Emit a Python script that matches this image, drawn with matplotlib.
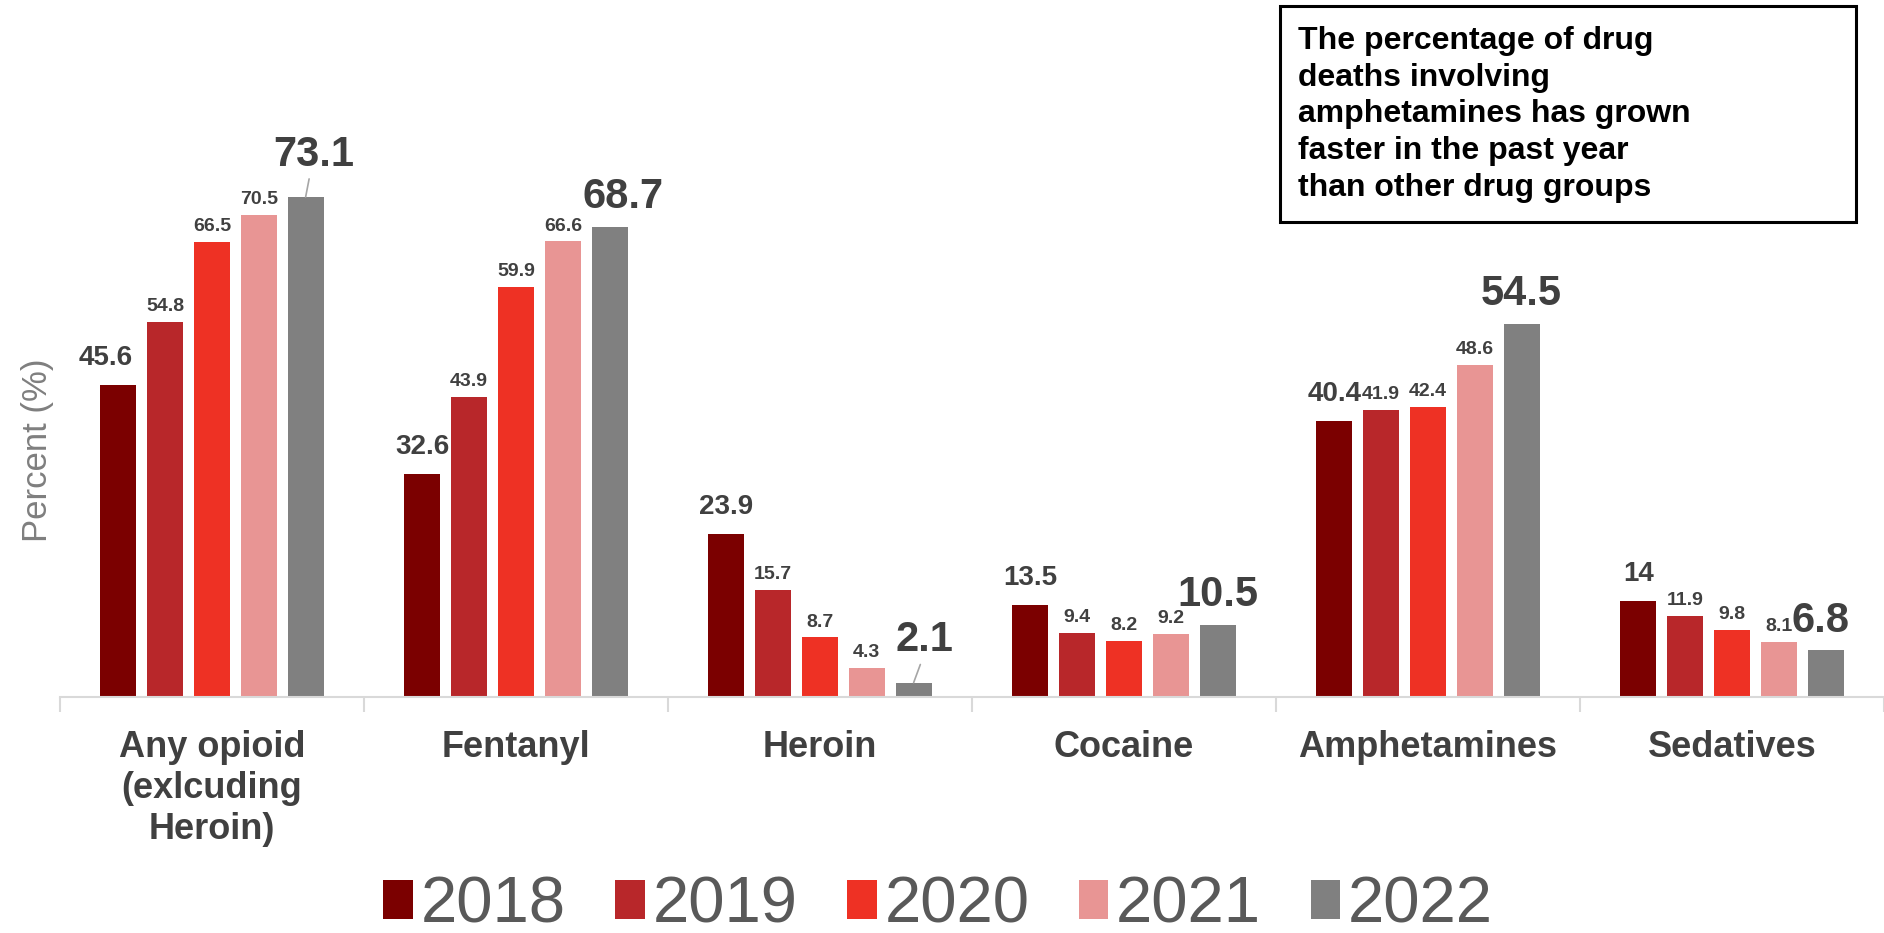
import numpy as np
import matplotlib
matplotlib.use("Agg")
import matplotlib.pyplot as plt
from matplotlib.patches import Rectangle

plt.rcParams['font.family'] = ['Liberation Sans', 'DejaVu Sans']

categories = ["Any opioid\n(exlcuding\nHeroin)", "Fentanyl", "Heroin", "Cocaine", "Amphetamines", "Sedatives"]
years = ["2018", "2019", "2020", "2021", "2022"]
v2018 = [45.6, 32.6, 23.9, 13.5, 40.4, 14]
v2019 = [54.8, 43.9, 15.7, 9.4, 41.9, 11.9]
v2020 = [66.5, 59.9, 8.7, 8.2, 42.4, 9.8]
v2021 = [70.5, 66.6, 4.3, 9.2, 48.6, 8.1]
v2022 = [73.1, 68.7, 2.1, 10.5, 54.5, 6.8]
series = [v2018, v2019, v2020, v2021, v2022]

colors = ["#7B0000", "#B8272A", "#EE3124", "#E89594", "#808080"]
label_color = "#404040"

fig = plt.figure(figsize=(18.84, 9.33), dpi=100)
ax = fig.add_axes([60 / 1884, 236 / 933, 1824 / 1884, 684 / 933])

x = np.arange(len(categories))
step = 0.154
width = 0.118

# label nudges in points (dx) and leader lines, keyed by (series, category)
nudge = {(0, 0): -9, (4, 0): 6, (4, 1): 10, (4, 2): 8, (4, 5): -4}
leader = {(4, 0), (4, 2)}

for i, vals in enumerate(series):
    pos = x + (i - 2) * step
    ax.bar(pos, vals, width, color=colors[i], label=years[i], zorder=2)
    for j, v in enumerate(vals):
        txt = f"{v:g}"
        if i == 4:
            size, dy = 30, 7
        elif i == 0:
            size, dy = 20, 10
        else:
            size, dy = 14, 5
        dx = nudge.get((i, j), 0)
        if (i, j) in leader:
            ax.annotate(txt, xy=(pos[j], v), xytext=(dx, 16), textcoords="offset points",
                        ha="center", va="bottom", fontsize=size, fontweight="bold",
                        color=label_color,
                        arrowprops=dict(arrowstyle="-", color="#A6A6A6", lw=1.2,
                                        shrinkA=1, shrinkB=0, relpos=(0.45, 0)))
        else:
            ax.annotate(txt, xy=(pos[j], v), xytext=(dx, dy), textcoords="offset points",
                        ha="center", va="bottom", fontsize=size, fontweight="bold",
                        color=label_color)

ax.set_xlim(-0.5, len(categories) - 0.5)
ax.set_ylim(0, 100)
for s in ["top", "right", "left"]:
    ax.spines[s].set_visible(False)
ax.spines["bottom"].set_color("#D9D9D9")
ax.spines["bottom"].set_linewidth(1.5)
ax.set_yticks([])
ax.set_xticks(x)
ax.set_xticklabels(categories, fontsize=26, fontweight="bold", color=label_color, linespacing=1.22)
ax.tick_params(axis="x", which="major", length=0, pad=24)
ax.set_xticks(np.arange(-0.5, len(categories)), minor=True)
ax.tick_params(axis="x", which="minor", length=11, width=1.5, color="#D9D9D9")

fig.text(38 / 1884, 1 - 450 / 933, "Percent (%)", rotation=90, ha="center", va="center",
         fontsize=25, color="#7F7F7F")

# annotation box
fig.add_artist(Rectangle((1280 / 1884, 1 - 222 / 933), 576 / 1884, 216 / 933,
                         transform=fig.transFigure, fill=False, edgecolor="black", lw=2.2))
fig.text(1298 / 1884, 1 - 26 / 933,
         "The percentage of drug\ndeaths involving\namphetamines has grown\nfaster in the past year\nthan other drug groups",
         ha="left", va="top", fontsize=23, fontweight="bold", color="black", linespacing=1.29)

leg = fig.legend(loc="lower center", bbox_to_anchor=(0.498, -0.066), ncol=5, frameon=False,
                 fontsize=47, handlelength=0.45, handleheight=0.54, handletextpad=0.12,
                 columnspacing=0.76, labelcolor="#595959")

fig.savefig("out.png", dpi=100)
